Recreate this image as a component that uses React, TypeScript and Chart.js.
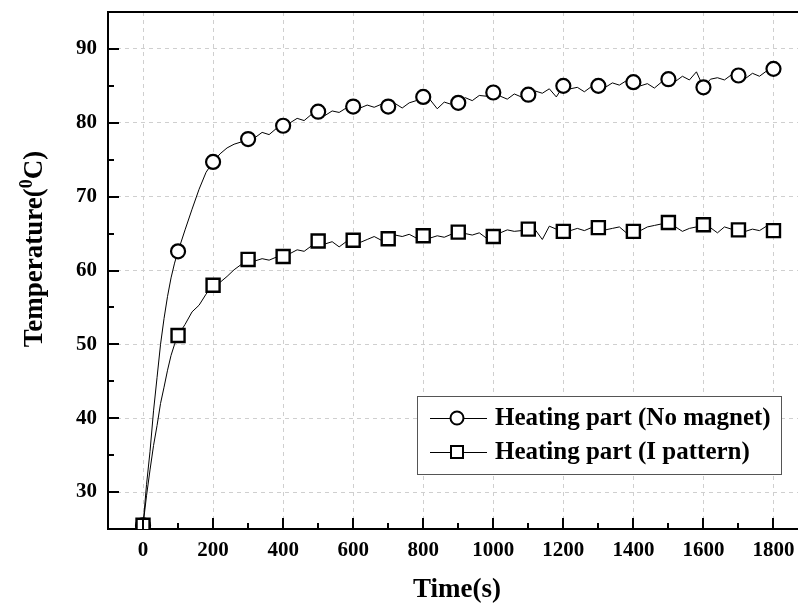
import React, { useEffect, useRef } from "react";
import { Chart, registerables } from "chart.js";

Chart.register(...registerables);

// ---- data ----
const TIME = [
  0, 10, 20, 30, 40, 50, 60, 70, 80, 90, 100,
  120, 140, 160, 180, 200,
  220, 240, 260, 280, 300, 320, 340, 360, 380, 400,
  420, 440, 460, 480, 500, 520, 540, 560, 580, 600,
  620, 640, 660, 680, 700, 720, 740, 760, 780, 800,
  820, 840, 860, 880, 900, 920, 940, 960, 980, 1000,
  1020, 1040, 1060, 1080, 1100, 1120, 1140, 1160, 1180, 1200,
  1220, 1240, 1260, 1280, 1300, 1320, 1340, 1360, 1380, 1400,
  1420, 1440, 1460, 1480, 1500, 1520, 1540, 1560, 1580, 1600,
  1620, 1640, 1660, 1680, 1700, 1720, 1740, 1760, 1780, 1800,
];

const NO_MAGNET = [
  25.5, 31.0, 35.5, 41.0, 45.5, 50.0, 53.5, 56.5, 59.0, 61.0, 62.6,
  65.5, 68.3, 71.0, 73.3, 74.7,
  75.8, 76.6, 77.1, 77.4, 77.8, 78.0, 78.7, 78.4, 79.2, 79.6,
  80.0, 80.6, 80.3, 81.1, 81.5, 81.0, 81.6, 81.4, 82.0, 82.2,
  82.0, 82.4, 82.1, 82.5, 82.2, 82.6, 82.0, 82.7, 83.0, 83.5,
  83.1, 81.9, 82.8, 82.5, 82.7, 83.4, 83.0, 83.7, 83.6, 84.1,
  83.6, 83.2, 83.9, 83.5, 83.8, 84.3, 84.0, 84.6, 83.5, 85.0,
  84.6, 84.8, 84.2, 84.9, 85.0, 84.8, 85.4, 85.1, 85.7, 85.5,
  85.0, 85.3, 84.7, 85.5, 85.9, 85.6, 86.3, 85.8, 86.9, 84.8,
  85.9, 86.1, 85.8, 86.5, 86.4, 86.0, 86.7, 86.3, 87.0, 87.3,
];

const I_PATTERN = [
  25.5, 29.5, 33.0, 36.3, 39.0, 42.0, 44.2, 46.5, 48.5, 50.0, 51.2,
  52.7, 54.4, 55.3, 56.8, 58.0,
  58.4, 59.2, 60.1, 60.8, 61.5, 61.3, 61.6, 61.4, 61.8, 61.9,
  62.3, 62.8, 62.6, 63.3, 64.0, 63.6, 63.9, 63.2, 63.9, 64.1,
  63.8, 64.2, 64.6, 64.1, 64.3, 64.8, 64.6, 64.9, 64.4, 64.7,
  64.4, 64.7, 64.5, 64.9, 65.2, 65.0, 64.8, 65.1, 64.4, 64.6,
  65.1, 65.5, 65.3, 65.4, 65.6, 65.5, 64.2, 66.0, 65.6, 65.3,
  65.4, 65.7, 65.4, 65.8, 65.8, 65.5, 65.7, 65.9, 65.1, 65.3,
  65.4, 65.9, 66.1, 66.3, 66.5, 65.9, 65.3, 65.7, 65.9, 66.2,
  65.8, 65.1, 65.9, 65.6, 65.5, 65.3, 65.6, 65.4, 66.0, 65.4,
];

const SERIES_LABELS = ["Heating part (No magnet)", "Heating part (I pattern)"];
const X_MAJOR = [0, 200, 400, 600, 800, 1000, 1200, 1400, 1600, 1800];
const X_MINOR = [100, 300, 500, 700, 900, 1100, 1300, 1500, 1700];
const Y_MAJOR = [30, 40, 50, 60, 70, 80, 90];
const Y_MINOR = [35, 45, 55, 65, 75, 85];
const X_TITLE = "Time(s)";
const Y_TITLE = ["Temperature(", "0", "C)"];
const MARKER_STEP = 100;

const FONT = '"Liberation Serif", "Times New Roman", serif';

const framePlugin = {
  id: "frame",
  afterDatasetsDraw(chart: any) {
    const { ctx, chartArea } = chart;
    const xs = chart.scales.x;
    const ys = chart.scales.y;
    ctx.save();
    ctx.strokeStyle = "#000";
    ctx.lineWidth = 2;
    ctx.beginPath();
    ctx.moveTo(chartArea.left - 1, chartArea.top);
    ctx.lineTo(chartArea.right, chartArea.top);
    ctx.stroke();
    const tick = (vals: number[], len: number) => {
      for (const v of vals) {
        const px = Math.round(xs.getPixelForValue(v));
        ctx.beginPath();
        ctx.moveTo(px, chartArea.bottom);
        ctx.lineTo(px, chartArea.bottom - len);
        ctx.stroke();
      }
    };
    const ytick = (vals: number[], len: number) => {
      for (const v of vals) {
        const py = Math.round(ys.getPixelForValue(v));
        ctx.beginPath();
        ctx.moveTo(chartArea.left, py);
        ctx.lineTo(chartArea.left + len, py);
        ctx.stroke();
      }
    };
    tick(X_MAJOR, 11);
    tick(X_MINOR, 6);
    ytick(Y_MAJOR, 11);
    ytick(Y_MINOR, 6);

    // tick labels
    ctx.fillStyle = "#000";
    ctx.font = `bold 21px ${FONT}`;
    ctx.textBaseline = "middle";
    ctx.textAlign = "center";
    for (const v of X_MAJOR) {
      ctx.fillText(String(v), xs.getPixelForValue(v), chartArea.bottom + 22);
    }
    ctx.textAlign = "right";
    for (const v of Y_MAJOR) {
      ctx.fillText(String(v), chartArea.left - 11, ys.getPixelForValue(v));
    }
    // x title
    ctx.font = `bold 27px ${FONT}`;
    ctx.textAlign = "center";
    ctx.fillText(X_TITLE, (chartArea.left + chartArea.right) / 2 + 4, 590);
    ctx.restore();
  },
  afterDraw(chart: any) {
    const { ctx } = chart;
    ctx.save();
    // y axis title with superscript
    ctx.fillStyle = "#000";
    ctx.textBaseline = "middle";
    const big = `bold 27px ${FONT}`;
    const small = `bold 18px ${FONT}`;
    ctx.font = big;
    const w1 = ctx.measureText(Y_TITLE[0]).width;
    const w3 = ctx.measureText(Y_TITLE[2]).width;
    ctx.font = small;
    const w2 = ctx.measureText(Y_TITLE[1]).width;
    const total = w1 + w2 + w3;
    ctx.translate(35, 249);
    ctx.rotate(-Math.PI / 2);
    ctx.textAlign = "left";
    let x = -total / 2;
    ctx.font = big;
    ctx.fillText(Y_TITLE[0], x, 0);
    x += w1;
    ctx.font = small;
    ctx.fillText(Y_TITLE[1], x, -8);
    x += w2;
    ctx.font = big;
    ctx.fillText(Y_TITLE[2], x, 0);
    ctx.restore();

    // legend
    ctx.save();
    const bx = 417, by = 396, bw = 364, bh = 78;
    ctx.fillStyle = "#fff";
    ctx.fillRect(bx, by, bw, bh);
    ctx.strokeStyle = "#555";
    ctx.lineWidth = 1;
    ctx.strokeRect(bx + 0.5, by + 0.5, bw, bh);
    const rows = [418, 452];
    ctx.font = `bold 25px ${FONT}`;
    ctx.textBaseline = "middle";
    ctx.textAlign = "left";
    SERIES_LABELS.forEach((label, i) => {
      const y = rows[i];
      ctx.strokeStyle = "#000";
      ctx.lineWidth = 1;
      ctx.beginPath();
      ctx.moveTo(430, y + 0.5);
      ctx.lineTo(487, y + 0.5);
      ctx.stroke();
      ctx.fillStyle = "#fff";
      ctx.lineWidth = 2;
      ctx.beginPath();
      if (i === 0) {
        ctx.arc(457, y, 6.5, 0, Math.PI * 2);
      } else {
        ctx.rect(451, y - 6, 12, 12);
      }
      ctx.fill();
      ctx.stroke();
      ctx.fillStyle = "#000";
      ctx.fillText(label, 495, y + 1);
    });
    ctx.restore();
  },
};

export default function App() {
  const ref = useRef<HTMLCanvasElement | null>(null);

  useEffect(() => {
    if (!ref.current) return;
    const markerRadius = (r: number) => (c: any) =>
      TIME[c.dataIndex] % MARKER_STEP === 0 ? r : 0;

    const chart = new Chart(ref.current, {
      type: "line",
      data: {
        datasets: [
          {
            label: SERIES_LABELS[0],
            data: TIME.map((t, i) => ({ x: t, y: NO_MAGNET[i] })),
            borderColor: "#000",
            borderWidth: 1,
            backgroundColor: "#fff",
            pointStyle: "circle",
            pointRadius: markerRadius(7),
            pointBorderWidth: 2.2,
            pointBackgroundColor: "#fff",
            pointBorderColor: "#000",
            tension: 0,
            order: 1,
          },
          {
            label: SERIES_LABELS[1],
            data: TIME.map((t, i) => ({ x: t, y: I_PATTERN[i] })),
            borderColor: "#000",
            borderWidth: 1,
            backgroundColor: "#fff",
            pointStyle: "rect",
            pointRadius: markerRadius(9.2),
            pointBorderWidth: 2.4,
            pointBackgroundColor: "#fff",
            pointBorderColor: "#000",
            tension: 0,
            order: 0,
          },
        ],
      },
      options: {
        responsive: false,
        animation: false,
        events: [],
        layout: {
          autoPadding: false,
          padding: { top: 12, left: 0, right: 0, bottom: 0 },
        },
        plugins: {
          legend: { display: false },
          tooltip: { enabled: false },
        },
        scales: {
          x: {
            type: "linear",
            min: -100,
            max: 1870,
            afterBuildTicks: (s: any) => {
              s.ticks = X_MAJOR.map((v) => ({ value: v }));
            },
            afterFit: (s: any) => {
              s.height = 79;
            },
            grid: { color: "#cfcfcf", lineWidth: 1, drawTicks: false },
            border: { display: true, color: "#000", width: 2, dash: [4, 4] },
            ticks: { display: false },
            title: { display: false },
          },
          y: {
            type: "linear",
            min: 25,
            max: 95,
            afterBuildTicks: (s: any) => {
              s.ticks = Y_MAJOR.map((v) => ({ value: v }));
            },
            afterFit: (s: any) => {
              s.width = 108;
            },
            grid: { color: "#cfcfcf", lineWidth: 1, drawTicks: false },
            border: { display: true, color: "#000", width: 2, dash: [4, 4] },
            ticks: { display: false },
          },
        },
      },
      plugins: [framePlugin],
    } as any);

    return () => chart.destroy();
  }, []);

  return (
    <div
      style={{
        position: "fixed",
        left: 0,
        top: 0,
        width: 798,
        height: 608,
        background: "#fff",
      }}
    >
      <canvas
        ref={ref}
        width={798}
        height={608}
        style={{ display: "block", width: 798, height: 608 }}
      />
    </div>
  );
}
